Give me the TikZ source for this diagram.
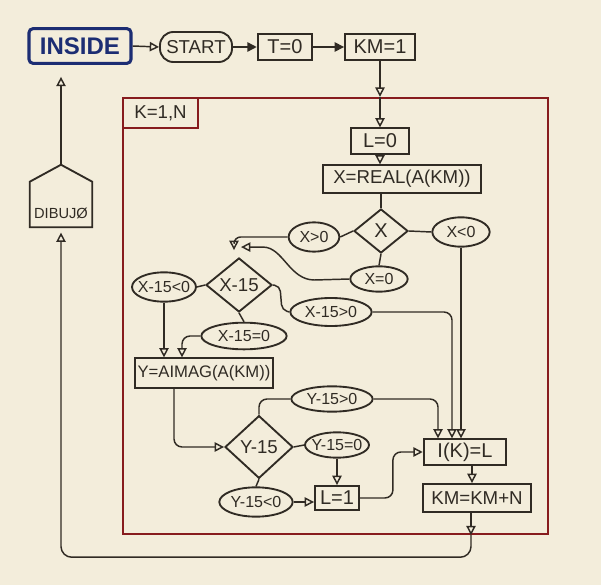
\documentclass[tikz,border=0pt]{standalone}
\usepackage{fontspec}
\setmainfont{Liberation Sans}
\usetikzlibrary{arrows.meta,shapes.geometric,calc}
\definecolor{paper}{RGB}{243,237,219}
\definecolor{inkc}{RGB}{48,43,36}
\definecolor{redc}{RGB}{135,28,30}
\definecolor{bluec}{RGB}{28,45,115}
\newcommand\fsz[1]{\fontsize{#1}{#1}\selectfont}
\newcommand\zw[1]{\makebox[0pt]{#1}}
\begin{document}
\begin{tikzpicture}[x=0.75pt,y=-0.75pt,
  ink/.style={draw=inkc, line width=1.1pt},
  arr/.style={ink, -{Triangle[open,length=7pt,width=7pt]}},
  farr/.style={ink, -{Triangle[length=7pt,width=7pt,fill=inkc]}},
  box/.style={rectangle, draw=inkc, line width=1.4pt, inner sep=0pt, text=inkc, font=\fsz{#1}},
  box/.default=14,
  oval/.style={ellipse, draw=inkc, line width=1.4pt, inner sep=0pt, text=inkc, font=\fsz{12}},
  dia/.style={diamond, draw=inkc, line width=1.4pt, inner sep=0pt, text=inkc, font=\fsz{#1}},
  dia/.default=13,
  redline/.style={draw=redc, line width=1.8pt}
]
\fill[paper] (0,0) rectangle (601,585);
\useasboundingbox (0,0) rectangle (601,585);

% loop frame
\node[redline, rectangle, inner sep=0pt, minimum width=318.75pt, minimum height=327pt] (frame) at (335.5,316) {};
\node[redline, rectangle, inner sep=0pt, minimum width=56pt, minimum height=22.5pt, text=inkc, font=\fsz{14}] (KN) at (160.5,113) {K=1,N};

% top row
\node[rectangle, draw=bluec, line width=2.3pt, rounded corners=3pt, inner sep=0pt,
      minimum width=76.5pt, minimum height=26pt, text=bluec, font=\fsz{18}\bfseries] (INS) at (80,46) {INSIDE};
\node[box=14, minimum width=54pt, minimum height=22.5pt, rounded corners=10pt] (START) at (196,47) {START};
\node[box=15, minimum width=41pt, minimum height=19pt] (T0) at (285,47) {T=0};
\node[box=15, minimum width=52.5pt, minimum height=20pt] (KM1) at (380,47) {KM=1};

% inside loop
\node[box=15, minimum width=43pt, minimum height=19pt] (L0) at (380,141) {L=0};
\node[box=14, minimum width=119pt, minimum height=20.5pt] (XR) at (402,179) {X=REAL(A(KM))};
\node[dia=15, minimum width=40.5pt, minimum height=33pt] (XD) at (381,231) {\zw{X}};
\node[oval, minimum width=38pt, minimum height=22pt] (XG0) at (314,237) {\zw{X>0}};
\node[oval, minimum width=43pt, minimum height=22pt] (XL0) at (461,232) {\zw{X<0}};
\node[oval, minimum width=43pt, minimum height=19pt] (XE0) at (379,279) {\zw{X=0}};
\node[dia=14, minimum width=49.5pt, minimum height=40.5pt] (XD2) at (239,285) {\zw{X-15}};
\node[oval, minimum width=48pt, minimum height=22pt] (XL15) at (164,287) {\zw{X-15<0}};
\node[oval, minimum width=61pt, minimum height=21pt] (XG15) at (331,312) {\zw{X-15>0}};
\node[oval, minimum width=64pt, minimum height=20pt] (XE15) at (244,336) {\zw{X-15=0}};
\node[box=12.5, minimum width=103pt, minimum height=22pt] (YA) at (204,373) {Y=AIMAG(A(KM))};
\node[dia=14, minimum width=51pt, minimum height=47pt] (YD) at (259,447) {\zw{Y-15}};
\node[oval, minimum width=61pt, minimum height=19pt] (YG) at (332,399) {\zw{Y-15>0}};
\node[oval, minimum width=48pt, minimum height=19pt] (YE) at (337,445) {\zw{Y-15=0}};
\node[oval, minimum width=55pt, minimum height=22pt] (YL) at (256,502) {\zw{Y-15<0}};
\node[box=15, minimum width=33pt, minimum height=18pt] (L1) at (337,498) {L=1};
\node[box=15, minimum width=62pt, minimum height=19pt] (IK) at (465,452) {I(K)=L};
\node[box=14, minimum width=81pt, minimum height=21pt] (KMN) at (477,498) {KM=KM+N};

% DIBUJO pentagon
\node[inner sep=0pt, minimum width=46.5pt, minimum height=33.75pt] (DIB) at (61,204.5) {};
\coordinate (dibpk) at ($(DIB.north)+(0,-17)$);
\draw[ink, line width=1.4pt] (DIB.south west) -- (DIB.north west) -- (dibpk) -- (DIB.north east) -- (DIB.south east) -- cycle;
\node[text=inkc, font=\fsz{11}, inner sep=0pt] (dibtxt) at (61,213) {DIBUJØ};

% top row connectors
\draw[arr] (INS.east) -- (START.west);
\draw[farr] (START.east) -- (T0.west);
\draw[farr] (T0.east) -- (KM1.west);
\coordinate (ftop) at (KM1.south |- frame.north);
\draw[arr] (KM1.south) -- (ftop);
\draw[arr] (ftop) -- (L0.north);
\draw[arr] (L0.south) -- (L0.south |- XR.north);
\draw[ink] (XD.north |- XR.south) -- (XD.north);

% X decision
\draw[ink] (XD.west) -- (XG0.east);
\draw[ink] (XD.east) -- (XL0.west);
\draw[ink] (XD.south) -- (XE0.north);
\coordinate (t1) at ($(XD2.north)+(-5,-7)$);
\coordinate (t2) at ($(XD2.north)+(2,-10)$);
\draw[arr, rounded corners=5] (XG0.west) -| (t1);
\draw[arr] (XE0.west) -- ++(-35,1) .. controls +(-25,0) and +(20,0) .. ($(t2)+(22,0)$) -- (t2);

% X-15 decision
\draw[ink] (XD2.west) -- (XL15.east);
\draw[ink] (XD2.south) -- (XE15.north);
\draw[ink, rounded corners=4] (XD2.east) -- ++(7,1) -- ++(2,24) -- (XG15.west);
\draw[arr] (XL15.south) -- (XL15.south |- YA.north);
\draw[arr, rounded corners=6] (XE15.west) -| ($(YA.north)+(-22,0)$);

% to I(K)=L
\coordinate (ikA) at ($(IK.north)+(-27,0)$);
\coordinate (ikB) at ($(IK.north)+(-13,0)$);
\coordinate (ikC) at (XL0.south |- IK.north);
\draw[arr, rounded corners=6] (XG15.east) -| (ikB);
\draw[arr] (XL0.south) -- (ikC);

% Y decision
\draw[arr, rounded corners=6] ($(YA.south)+(-30,0)$) |- (YD.west);
\draw[ink, rounded corners=6] (YD.north) |- (YG.west);
\draw[ink] (YD.east) -- (YE.west);
\draw[ink] (YD.south) -- (YL.north);
\draw[arr, rounded corners=6] (YG.east) -| (ikA);
\draw[arr] (YE.south) -- (YE.south |- L1.north);
\draw[arr] (YL.east) -- (YL.east -| L1.west);
\draw[arr, rounded corners=6] (L1.east) -- ++(33,0) |- (IK.west);

% lower chain and return loop
\coordinate (ikS) at ($(IK.south)+(7,0)$);
\draw[arr] (ikS) -- (ikS |- KMN.north);
\coordinate (kmS) at ($(KMN.south)+(-6,0)$);
\coordinate (fbot) at (kmS |- frame.south);
\draw[arr] (kmS) -- (fbot);
\draw[arr, rounded corners=8, shorten >=4pt] (fbot) -- ++(0,22) -| (DIB.south);
\draw[arr, shorten >=9pt] (dibpk) -- (dibpk |- INS.south);
\end{tikzpicture}
\end{document}
